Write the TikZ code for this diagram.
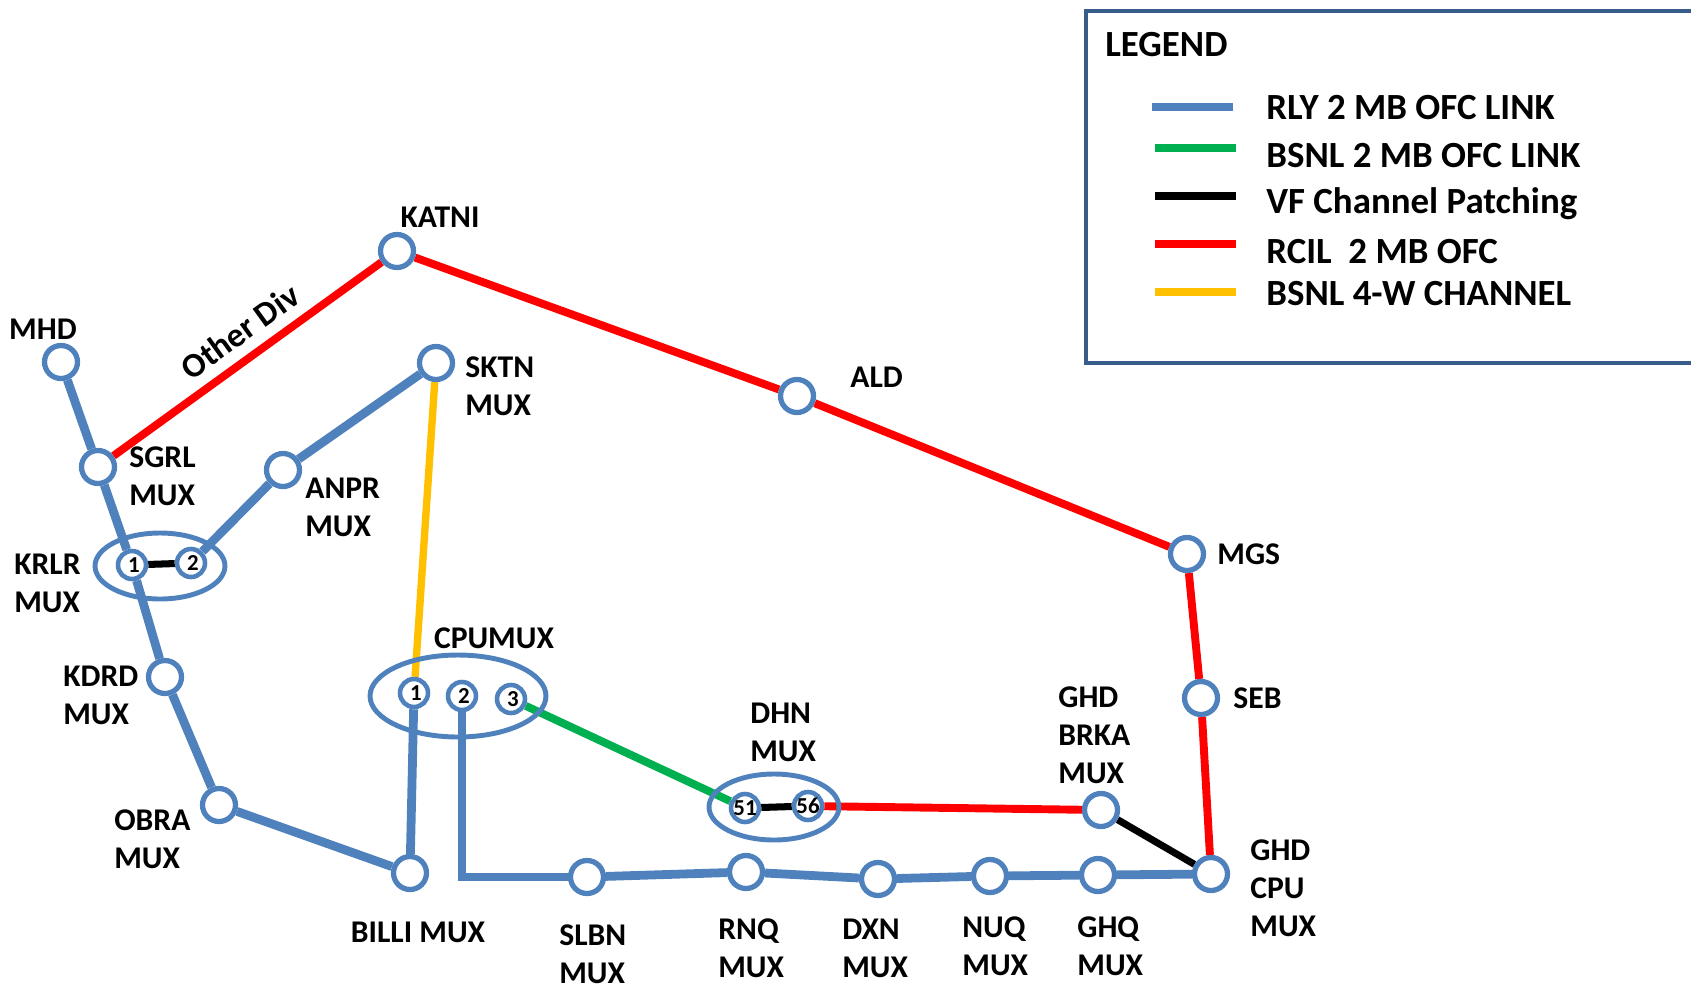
\documentclass[tikz,border=0pt]{standalone}
\usepackage{fontspec}
\setmainfont{Carlito}
\usetikzlibrary{shapes.geometric,backgrounds}

\definecolor{rlyblue}{RGB}{79,129,189}
\definecolor{bsnlgreen}{RGB}{0,176,80}
\definecolor{rcilred}{RGB}{255,0,0}
\definecolor{chanyellow}{RGB}{255,192,0}
\definecolor{legframe}{RGB}{56,93,138}

\tikzset{
    stn/.style={draw=rlyblue, circle, fill=white, line width=3pt, minimum size=0.66cm, inner sep=0pt},
    port/.style={draw=rlyblue, circle, fill=white, line width=2.6pt, minimum size=0.56cm, inner sep=0pt,
        font=\bfseries\fontsize{13}{13}\selectfont},
    grp/.style={draw=rlyblue, ellipse, line width=2.8pt, inner sep=0pt},
    lbl/.style={font=\bfseries\fontsize{18}{21.5}\selectfont, align=left, inner sep=0pt},
    leglbl/.style={font=\bfseries\fontsize{21}{21}\selectfont, inner sep=0pt, anchor=west},
    rly/.style={draw=rlyblue, line width=5pt},
    bsnl/.style={draw=bsnlgreen, line width=4.5pt},
    vf/.style={draw=black, line width=4pt},
    rcil/.style={draw=rcilred, line width=4.5pt},
    fourw/.style={draw=chanyellow, line width=4.2pt},
}

\begin{document}
\begin{tikzpicture}[x=0.02cm, y=-0.02cm]
    \clip (0,0) rectangle (1691,988);

    % stations
    \node[stn] (katni) at (397,251) {};
    \node[stn] (mhd) at (61,362) {};
    \node[stn] (sgrl) at (98,467) {};
    \node[stn] (sktn) at (436,363) {};
    \node[stn] (anpr) at (283,470) {};
    \node[stn] (kdrd) at (165,677) {};
    \node[stn] (obra) at (219,805) {};
    \node[stn] (billi) at (410,873) {};
    \node[stn] (slbn) at (587,877) {};
    \node[stn] (rnq) at (746,872) {};
    \node[stn] (dxn) at (878,879) {};
    \node[stn] (nuq) at (990,876) {};
    \node[stn] (ghq) at (1098,875) {};
    \node[stn] (ghdcpu) at (1211,874) {};
    \node[stn] (brka) at (1101,810) {};
    \node[stn] (seb) at (1201,698) {};
    \node[stn] (mgs) at (1187,554) {};
    \node[stn] (ald) at (797,396) {};

    % mux groups
    \node[grp, minimum width=2.6cm, minimum height=1.32cm] (krlr) at (160,566) {};
    \node[port] (k1) at (132,565) {\,1};
    \node[port] (k2) at (191,563) {\,2};
    \node[grp, minimum width=3.52cm, minimum height=1.64cm] (cpumux) at (458,696) {};
    \node[port] (c1) at (414,693) {\,1};
    \node[port] (c2) at (462,696) {\,2};
    \node[port] (c3) at (511,699) {\,3};
    \node[grp, minimum width=2.6cm, minimum height=1.32cm] (dhn) at (774,807) {};
    \node[port] (d51) at (745,808) {51};
    \node[port] (d56) at (808,806) {56};

    % links
    \begin{scope}[on background layer]
        \draw[rly] (mhd) -- (sgrl) -- (k1) -- (kdrd) -- (obra) -- (billi);
        \draw[rly] (k2) -- (anpr) -- (sktn);
        \draw[rly] (c1) -- (billi);
        \draw[rly] (c2) |- (slbn);
        \draw[rly] (slbn) -- (rnq) -- (dxn) -- (nuq) -- (ghq) -- (ghdcpu);
        \draw[rcil] (sgrl) -- node[lbl, font=\bfseries\fontsize{19.5}{20}\selectfont, sloped, above=6pt, pos=0.53] (otherdiv) {Other Div} (katni);
        \draw[rcil] (katni) -- (ald) -- (mgs) -- (seb) -- (ghdcpu);
        \draw[rcil] (d56) -- (brka);
        \draw[vf] (k1) -- (k2);
        \draw[vf] (d51) -- (d56);
        \draw[vf] (brka) -- (ghdcpu);
        \draw[bsnl] (c3) -- (d51);
        \draw[fourw] (sktn) -- (c1);
    \end{scope}

    % station names
    \node[lbl] (katnitxt) at (440,217) {KATNI};
    \node[lbl] (mhdtxt) at (43,329) {MHD};
    \node[lbl, anchor=west] (sgrltxt) at (129,476) {SGRL\\MUX};
    \node[lbl, anchor=west] (sktntxt) at (465,386) {SKTN\\MUX};
    \node[lbl, anchor=west] (anprtxt) at (305,507) {ANPR\\MUX};
    \node[lbl, anchor=west] (krlrtxt) at (14,583) {KRLR\\MUX};
    \node[lbl, anchor=west] (kdrdtxt) at (63,695) {KDRD\\MUX};
    \node[lbl, anchor=west] (obratxt) at (114,839) {OBRA\\MUX};
    \node[lbl] (cpumuxtxt) at (494,638) {CPUMUX};
    \node[lbl] (billitxt) at (418,932) {BILLI MUX};
    \node[lbl, anchor=west] (dhntxt) at (750,732) {DHN\\MUX};
    \node[lbl, anchor=west] (slbntxt) at (559,954) {SLBN\\MUX};
    \node[lbl, anchor=west] (rnqtxt) at (718,948) {RNQ\\MUX};
    \node[lbl, anchor=west] (dxntxt) at (842,948) {DXN\\MUX};
    \node[lbl, anchor=west] (nuqtxt) at (962,946) {NUQ\\MUX};
    \node[lbl, anchor=west] (ghqtxt) at (1077,946) {GHQ\\MUX};
    \node[lbl, anchor=west] (ghdcputxt) at (1250,888) {GHD\\CPU\\MUX};
    \node[lbl, anchor=west] (brkatxt) at (1058,735) {GHD\\BRKA\\MUX};
    \node[lbl, anchor=west] (sebtxt) at (1233,698) {SEB};
    \node[lbl, anchor=west] (mgstxt) at (1217,554) {MGS};
    \node[lbl, anchor=west] (aldtxt) at (850,377) {ALD};

    % legend
    \draw[legframe, line width=2pt] (1086,11) rectangle (1720,363);
    \node[leglbl] (legend) at (1105,45) {LEGEND};
    \draw[rly, draw=rlyblue] (1152,107) -- (1233,107);
    \draw[bsnl, line width=5pt] (1155,148) -- (1236,148);
    \draw[vf, line width=5pt] (1155,196) -- (1236,196);
    \draw[rcil, line width=5pt] (1155,244) -- (1236,244);
    \draw[fourw, line width=5pt] (1155,292) -- (1236,292);
    \node[leglbl] (legrly) at (1266,108) {RLY 2 MB OFC LINK};
    \node[leglbl] (legbsnl) at (1266,156) {BSNL 2 MB OFC LINK};
    \node[leglbl] (legvf) at (1266,204) {VF Channel Patching};
    \node[leglbl] (legrcil) at (1266,252) {RCIL\ \ 2 MB OFC};
    \node[leglbl] (legfourw) at (1266,294) {BSNL 4-W CHANNEL};
\end{tikzpicture}
\end{document}
